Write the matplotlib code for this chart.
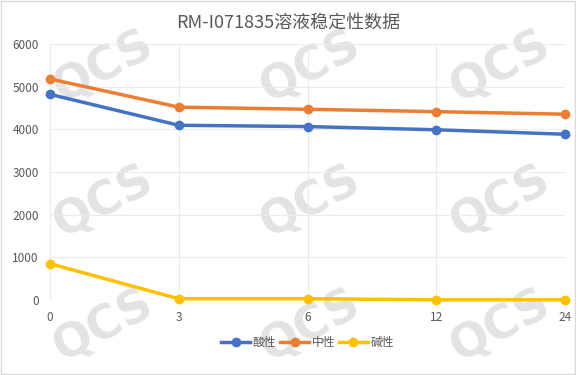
import matplotlib.pyplot as plt

plt.rcParams['font.family'] = ['Noto Sans CJK SC', 'DejaVu Sans']

# data
hours = ['0', '3', '6', '12', '24']
acid = [4820, 4095, 4065, 3990, 3885]
neutral = [5180, 4520, 4470, 4415, 4355]
alkaline = [850, 30, 30, 5, 5]
series_names = ['酸性', '中性', '碱性']
colors = ['#4472C4', '#ED7D31', '#FFC000']

fig = plt.figure(figsize=(5.76, 3.75), dpi=100)
ax = fig.add_axes([50 / 576, 1 - 300 / 375, 515 / 576, 256 / 375])
ax.set_zorder(2)

# watermark, behind the plot
for wx, wy in [(0.18, 0.82), (0.54, 0.82), (0.87, 0.82),
               (0.18, 0.46), (0.54, 0.46), (0.87, 0.46),
               (0.18, 0.13), (0.54, 0.13), (0.87, 0.13)]:
    fig.text(wx, wy, 'QCS', fontsize=33, fontweight='bold', color='#e3e3e3',
             rotation=28, ha='center', va='center', zorder=0, family='DejaVu Sans')

x = range(len(hours))
for vals, name, c in zip([acid, neutral, alkaline], series_names, colors):
    ax.plot(x, vals, color=c, lw=2.5, marker='o', ms=6, label=name, clip_on=False, zorder=3)

ax.set_xlim(0, len(hours) - 1)
ax.set_ylim(0, 6000)
ax.set_yticks(range(0, 6001, 1000))
ax.set_xticks(list(x))
ax.set_xticklabels(hours)
ax.grid(True, color='#ebebeb', lw=0.8)
ax.set_facecolor('none')
for s in ax.spines.values():
    s.set_visible(False)
ax.tick_params(length=0, colors='#595959', labelsize=8.5, pad=8)

fig.text(0.5, 0.94, 'RM-I071835溶液稳定性数据', ha='center', va='center',
         fontsize=13, color='#595959', zorder=3)

ax.legend(loc='upper center', bbox_to_anchor=(0.5, -0.1), ncol=3, frameon=False,
          fontsize=8.5, handlelength=2.5, handletextpad=0.2, columnspacing=0.3,
          labelcolor='#595959')

fig.patches.append(plt.Rectangle((0.002, 0.003), 0.996, 0.994, transform=fig.transFigure,
                                 fill=False, edgecolor='#d9d9d9', lw=1))

fig.savefig('out.png', dpi=100)
